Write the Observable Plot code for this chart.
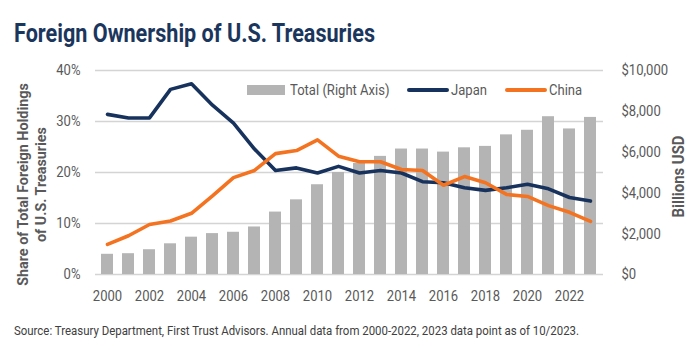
<!DOCTYPE html>
<html><head><meta charset="utf-8">
<script src="https://cdn.jsdelivr.net/npm/d3@7"></script>
<script src="https://cdn.jsdelivr.net/npm/@observablehq/plot@0.6"></script>
<style>
body{margin:0;background:#fff;font-family:Roboto,"Noto Sans",sans-serif;}
#wrap{position:relative;width:696px;height:354px;overflow:hidden;}
#title{position:absolute;left:14px;top:21px;font-size:25px;font-weight:bold;color:#1b365d;line-height:1;white-space:nowrap;transform-origin:0 0;}
#chart{position:absolute;left:0;top:52px;height:262px;}
#source{position:absolute;left:14px;top:324px;font-size:13px;line-height:1;color:#404040;white-space:nowrap;transform-origin:0 0;}
.leg{position:absolute;top:82px;height:16px;font-size:15px;line-height:16px;color:#595959;white-space:nowrap;}
.sw{position:absolute;left:0;}
.lt{position:absolute;top:0;transform-origin:0 50%;transform:scaleX(0.87);}
</style></head>
<body>
<div id="wrap">
<div id="chart"></div>
<div id="title">Foreign Ownership of U.S. Treasuries</div>
<div id="source">Source: Treasury Department, First Trust Advisors. Annual data from 2000-2022, 2023 data point as of 10/2023.</div>
<div class="leg" style="left:247px"><span class="sw" style="top:3px;width:38px;height:10px;background:#b4b4b4"></span><span class="lt" style="left:43px">Total (Right Axis)</span></div>
<div class="leg" style="left:407px"><span class="sw" style="top:6px;width:42px;height:4px;border-radius:2px;background:#17325c"></span><span class="lt" style="left:44px">Japan</span></div>
<div class="leg" style="left:505px"><span class="sw" style="top:6px;width:42px;height:4px;border-radius:2px;background:#f47320"></span><span class="lt" style="left:44px">China</span></div>
</div>
<script>
const years = [2000,2001,2002,2003,2004,2005,2006,2007,2008,2009,2010,2011,2012,2013,2014,2015,2016,2017,2018,2019,2020,2021,2022,2023];
const totalBillions = [990,1020,1215,1505,1830,2005,2070,2330,3060,3660,4400,5000,5440,5790,6150,6150,6000,6210,6280,6845,7070,7735,7135,7700];
const japanShare = [31.4,30.7,30.7,36.3,37.4,33.2,29.7,24.6,20.4,20.9,19.9,21.2,19.9,20.4,19.9,18.2,18.0,17.0,16.5,17.0,17.7,16.8,15.1,14.4];
const chinaShare = [5.9,7.6,9.8,10.5,12.0,15.4,19.0,20.4,23.7,24.3,26.4,23.2,22.1,22.1,20.6,20.4,17.5,19.2,18.0,15.7,15.3,13.5,12.2,10.4];
const xTickYears = [2000,2002,2004,2006,2008,2010,2012,2014,2016,2018,2020,2022];
const leftTicks = [0,10,20,30,40];
const rightTicks = [0,2000,4000,6000,8000,10000];

const ratio = 10000/40;
const data = years.map((y,i)=>({year:y,total:totalBillions[i],japan:japanShare[i],china:chinaShare[i]}));

const chart = Plot.plot({
  width:696, height:262,
  marginTop:18, marginBottom:40, marginLeft:95, marginRight:93,
  style:{fontFamily:"Roboto, sans-serif", fontSize:"15px", color:"#595959", background:"transparent", overflow:"visible"},
  x:{type:"band", domain:years, paddingInner:0.42, paddingOuter:0.21},
  y:{domain:[0,40]},
  marks:[
    Plot.ruleY(leftTicks, {stroke:"#d4d4d4", strokeWidth:1.6}),
    Plot.barY(data, {x:"year", y:d=>d.total/ratio, fill:"#b4b4b4"}),
    Plot.lineY(data, {x:"year", y:"japan", stroke:"#17325c", strokeWidth:3.6}),
    Plot.lineY(data, {x:"year", y:"china", stroke:"#f47320", strokeWidth:3.6}),
    Plot.axisY({ticks:leftTicks, tickFormat:d=>d+"%", tickSize:0, tickPadding:15, anchor:"left", label:null, fontSize:15, className:"tk"}),
    Plot.axisY({ticks:rightTicks.map(v=>v/ratio), tickFormat:d=>"$"+d3.format(",")(Math.round(d*ratio)), tickSize:0, tickPadding:18, anchor:"right", label:null, fontSize:15, className:"tk"}),
    Plot.axisX({ticks:xTickYears, tickFormat:d=>String(d), tickSize:0, tickPadding:16, label:null, fontSize:15, className:"tk"}),
    Plot.text(["Share of Total Foreign Holdings\nof U.S. Treasuries"], {frameAnchor:"left", textAnchor:"middle", rotate:-90, dx:-64, dy:12, fontWeight:"bold", fontSize:15, fill:"#595959", lineHeight:1.2, className:"ttl-left"}),
    Plot.text(["Billions USD"], {frameAnchor:"right", textAnchor:"middle", rotate:-90, dx:75, dy:4, fontWeight:"bold", fontSize:16, fill:"#595959", className:"ttl-right"})
  ]
});
document.getElementById("chart").appendChild(chart);

// condense text horizontally (reference uses a condensed typeface)
function condense(el, s){
  let t = el.getAttribute("transform");
  if (!t) {
    const x = el.getAttribute("x")||0, y = el.getAttribute("y")||0;
    el.removeAttribute("x"); el.removeAttribute("y");
    t = `translate(${x},${y})`;
  }
  el.setAttribute("transform", t + ` scale(${s},1)`);
}
chart.querySelectorAll("g.tk text").forEach(el=>condense(el,0.87));
const fitLen = (sel, target)=>{
  chart.querySelectorAll(sel+" text").forEach(el=>{
    const w = el.getBBox().width;
    condense(el, target/w);
  });
};
fitLen("g.ttl-left", 203);
fitLen("g.ttl-right", 82);

const fitHtml = (id, target)=>{
  const el = document.getElementById(id);
  const w = el.getBoundingClientRect().width;
  el.style.transform = `scaleX(${target/w})`;
};
fitHtml("title", 361);
fitHtml("source", 565);
</script>
</body></html>
